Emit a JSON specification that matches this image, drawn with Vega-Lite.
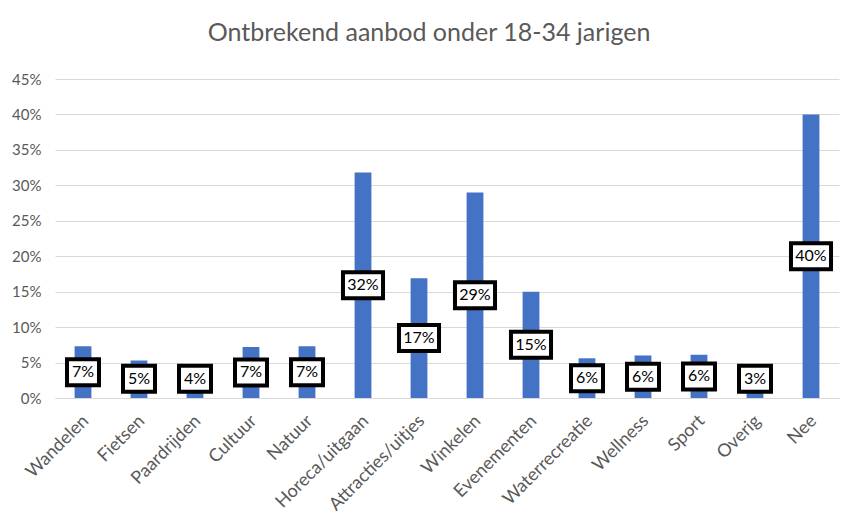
{
  "$schema": "https://vega.github.io/schema/vega-lite/v6.json",
  "autosize": "none",
  "width": 784,
  "height": 319,
  "padding": {"left": 55, "top": 79, "right": 21, "bottom": 115},
  "background": "white",
  "title": {
    "text": "Ontbrekend aanbod onder 18-34 jarigen",
    "font": "Lato",
    "fontSize": 25,
    "fontWeight": "normal",
    "color": "#595959",
    "anchor": "middle",
    "dx": -18,
    "offset": 26
  },
  "config": {
    "view": {"stroke": null},
    "font": "Lato",
    "axisY": {
      "labelFontSize": 15,
      "labelColor": "#595959",
      "labelPadding": 14,
      "ticks": false,
      "domain": false,
      "gridColor": "#d9d9d9",
      "gridWidth": 1,
      "labelOverlap": false
    }
  },
  "data": {
    "values": [
      {"category": "Wandelen", "value": 7.3, "label": "7%"},
      {"category": "Fietsen", "value": 5.3, "label": "5%"},
      {"category": "Paardrijden", "value": 4.3, "label": "4%"},
      {"category": "Cultuur", "value": 7.2, "label": "7%"},
      {"category": "Natuur", "value": 7.3, "label": "7%"},
      {"category": "Horeca/uitgaan", "value": 31.8, "label": "32%"},
      {"category": "Attracties/uitjes", "value": 16.9, "label": "17%"},
      {"category": "Winkelen", "value": 29.0, "label": "29%"},
      {"category": "Evenementen", "value": 15.0, "label": "15%"},
      {"category": "Waterrecreatie", "value": 5.6, "label": "6%"},
      {"category": "Wellness", "value": 6.0, "label": "6%"},
      {"category": "Sport", "value": 6.1, "label": "6%"},
      {"category": "Overig", "value": 4.5, "label": "3%"},
      {"category": "Nee", "value": 40.0, "label": "40%"}
    ]
  },
  "transform": [
    {"calculate": "max(datum.value / 2, 2.7)", "as": "mid"}
  ],
  "encoding": {
    "x": {
      "field": "category",
      "type": "nominal",
      "sort": null,
      "scale": {"paddingInner": 0.7, "paddingOuter": 0.35},
      "axis": {
        "title": null,
        "labelAngle": -45,
        "labelAlign": "right",
        "labelBaseline": "middle",
        "labelFontSize": 18,
        "labelColor": "#595959",
        "labelPadding": 20,
        "labelOffset": 3,
        "ticks": false,
        "domainColor": "#d9d9d9",
        "domainWidth": 1
      }
    }
  },
  "layer": [
    {
      "mark": {"type": "bar", "color": "#4472C4"},
      "encoding": {
        "y": {
          "field": "value",
          "type": "quantitative",
          "scale": {"domain": [0, 45]},
          "axis": {
            "title": null,
            "values": [0, 5, 10, 15, 20, 25, 30, 35, 40, 45],
            "labelExpr": "datum.value + '%'"
          }
        }
      }
    },
    {
      "transform": [{"filter": "datum.value < 10"}],
      "mark": {
        "type": "point",
        "shape": "M-1.23,-1H1.23V1H-1.23Z",
        "filled": false,
        "fill": "white",
        "fillOpacity": 1,
        "stroke": "black",
        "strokeWidth": 4,
        "size": 676,
        "opacity": 1
      },
      "encoding": {
        "y": {"field": "mid", "type": "quantitative", "axis": {"title": null, "values": [0, 5, 10, 15, 20, 25, 30, 35, 40, 45], "labelExpr": "datum.value + '%'"}}
      }
    },
    {
      "transform": [{"filter": "datum.value >= 10"}],
      "mark": {
        "type": "point",
        "shape": "M-1.54,-1H1.54V1H-1.54Z",
        "filled": false,
        "fill": "white",
        "fillOpacity": 1,
        "stroke": "black",
        "strokeWidth": 4,
        "size": 676,
        "opacity": 1
      },
      "encoding": {
        "y": {"field": "mid", "type": "quantitative", "axis": {"title": null, "values": [0, 5, 10, 15, 20, 25, 30, 35, 40, 45], "labelExpr": "datum.value + '%'"}}
      }
    },
    {
      "mark": {"type": "text", "fontSize": 16, "color": "black", "baseline": "middle", "align": "center"},
      "encoding": {
        "y": {"field": "mid", "type": "quantitative", "axis": {"title": null, "values": [0, 5, 10, 15, 20, 25, 30, 35, 40, 45], "labelExpr": "datum.value + '%'"}},
        "text": {"field": "label"}
      }
    }
  ]
}
